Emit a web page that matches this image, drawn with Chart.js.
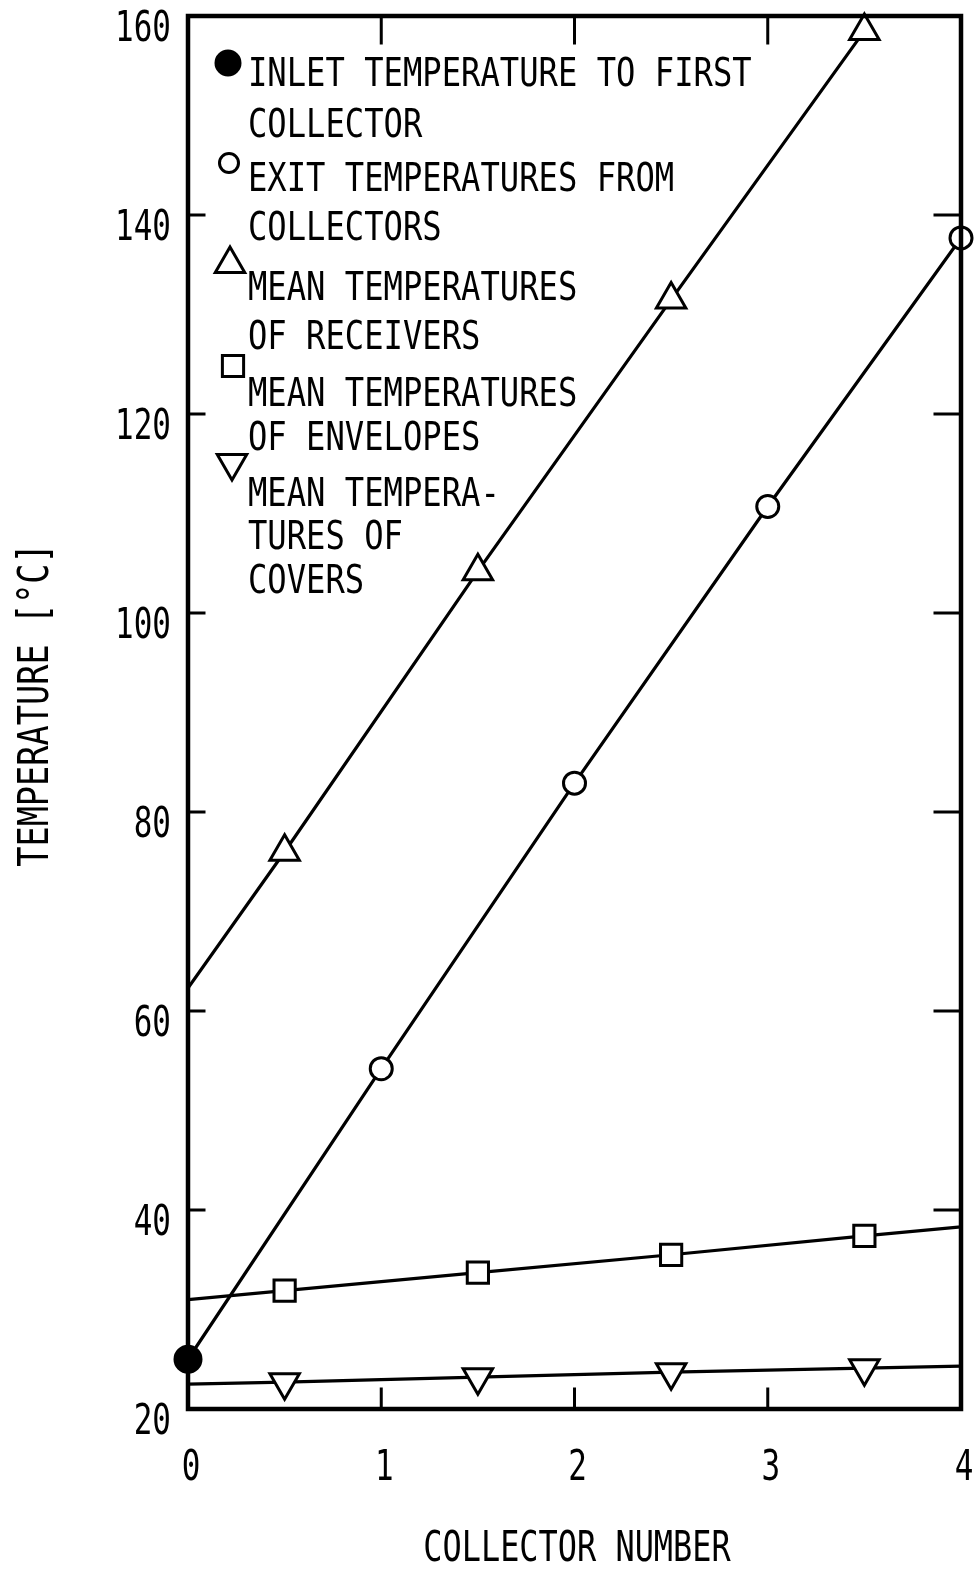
<!DOCTYPE html>
<html>
<head>
<meta charset="utf-8">
<title>Collector temperatures</title>
<script src="https://cdn.jsdelivr.net/npm/chart.js@4.4.1/dist/chart.umd.min.js"></script>
<style>
  html, body { margin: 0; padding: 0; background: #fff; }
  canvas { display: block; }
</style>
</head>
<body>
<canvas id="tempChart" width="974" height="1572"></canvas>
<script>
// collector positions
const collectorNumbers = [1, 2, 3, 4];
const midPositions = [0.5, 1.5, 2.5, 3.5];

// temperatures in degC
const inletTemp = 25;
const exitTemps = [54.2, 82.9, 110.7, 137.7];
const receiverTemps = [76.0, 104.2, 131.5, 158.5];
const envelopeTemps = [31.9, 33.7, 35.5, 37.4];
const coverTemps = [22.7, 23.2, 23.7, 24.1];

// where the drawn lines meet the frame
const receiverLineStart = 62.3;
const envelopeLineEnds = [31.0, 38.3];
const coverLineEnds = [22.5, 24.3];

// axes
const xTicks = [0, 1, 2, 3, 4];
const yTicks = [20, 40, 60, 80, 100, 120, 140, 160];
const xTitle = 'COLLECTOR NUMBER';
const yTitle = 'TEMPERATURE [°C]';

const legendItems = [
  { style: 'circle', filled: true, lines: ['INLET TEMPERATURE TO FIRST', 'COLLECTOR'] },
  { style: 'circle', filled: false, lines: ['EXIT TEMPERATURES FROM', 'COLLECTORS'] },
  { style: 'triangle', filled: false, lines: ['MEAN TEMPERATURES', 'OF RECEIVERS'] },
  { style: 'rect', filled: false, lines: ['MEAN TEMPERATURES', 'OF ENVELOPES'] },
  { style: 'triangle', rotation: 180, filled: false, lines: ['MEAN TEMPERA-', 'TURES OF', 'COVERS'] }
];

const FONT = '"DejaVu Sans Mono", "Liberation Mono", monospace';

function pts(xs, ys) {
  return xs.map((x, i) => ({ x: x, y: ys[i] }));
}

// narrow typewriter-looking text: squeeze the mono font horizontally
function squeezed(ctx, text, x, y, size, sx, align, angle) {
  ctx.save();
  ctx.translate(x, y);
  if (angle) ctx.rotate(angle);
  ctx.scale(sx, 1);
  ctx.font = size + 'px ' + FONT;
  ctx.textAlign = align;
  ctx.textBaseline = 'alphabetic';
  ctx.fillStyle = '#000';
  ctx.fillText(text, 0, 0);
  ctx.restore();
}

const lineStyle = {
  showLine: true,
  borderColor: '#000',
  borderWidth: 3.2,
  pointRadius: 0,
  tension: 0,
  order: 2
};

const markerStyle = {
  showLine: false,
  borderColor: '#000',
  backgroundColor: '#fff',
  pointBorderWidth: 3,
  clip: false,
  order: 1
};

const frame = {
  id: 'frame',
  afterDatasetsDraw(chart) {
    const ctx = chart.ctx;
    const a = chart.chartArea;
    const xs = chart.scales.x;
    const ys = chart.scales.y;

    ctx.save();
    ctx.strokeStyle = '#000';
    ctx.lineCap = 'square';

    // inward tick marks on all four sides
    ctx.lineWidth = 3;
    ctx.beginPath();
    yTicks.slice(1, -1).forEach(v => {
      const py = ys.getPixelForValue(v);
      ctx.moveTo(a.left, py); ctx.lineTo(a.left + 16, py);
      ctx.moveTo(a.right, py); ctx.lineTo(a.right - 26, py);
    });
    xTicks.slice(1, -1).forEach(v => {
      const px = xs.getPixelForValue(v);
      ctx.moveTo(px, a.bottom); ctx.lineTo(px, a.bottom - 20);
      ctx.moveTo(px, a.top); ctx.lineTo(px, a.top + 27);
    });
    ctx.stroke();

    ctx.lineWidth = 4.5;
    ctx.strokeRect(a.left, a.top, a.right - a.left, a.bottom - a.top);
    ctx.restore();

    // tick labels
    yTicks.forEach(v => {
      squeezed(ctx, String(v), 171, ys.getPixelForValue(v) + 25, 43, 0.72, 'right');
    });
    xTicks.forEach(v => {
      squeezed(ctx, String(v), xs.getPixelForValue(v) + 3, 1480, 43, 0.72, 'center');
    });

    // axis titles
    squeezed(ctx, xTitle, 577, 1561, 42, 0.76, 'center');
    squeezed(ctx, yTitle, 48, 705, 42, 0.8, 'center', -Math.PI / 2);

    // legend inside the plot
    const markerY = [63, 163, 264, 366, 463];
    const baselines = [[86, 137], [191, 240], [300, 349], [406, 450], [506, 549, 593]];
    const markerX = [228, 229, 230, 233, 232];
    legendItems.forEach((item, i) => {
      ctx.save();
      ctx.strokeStyle = '#000';
      ctx.lineWidth = 3;
      ctx.fillStyle = item.filled ? '#000' : '#fff';
      const r = item.style === 'circle' ? (item.filled ? 12 : 9.5) : (item.style === 'rect' ? 15 : 17);
      Chart.helpers.drawPoint(ctx, {
        pointStyle: item.style,
        radius: r,
        rotation: item.rotation || 0,
        borderWidth: 3
      }, markerX[i], markerY[i]);
      ctx.restore();
      item.lines.forEach((t, j) => {
        squeezed(ctx, t, 248, baselines[i][j], 39, 0.825, 'left');
      });
    });
  }
};

new Chart(document.getElementById('tempChart').getContext('2d'), {
  type: 'scatter',
  data: {
    datasets: [
      // straight lines through each set of points
      Object.assign({ data: pts([0].concat(collectorNumbers), [inletTemp].concat(exitTemps)) }, lineStyle),
      Object.assign({ data: pts([0].concat(midPositions), [receiverLineStart].concat(receiverTemps)) }, lineStyle),
      Object.assign({ data: pts([0].concat(midPositions, [4]), [envelopeLineEnds[0]].concat(envelopeTemps, [envelopeLineEnds[1]])) }, lineStyle),
      Object.assign({ data: pts([0].concat(midPositions, [4]), [coverLineEnds[0]].concat(coverTemps, [coverLineEnds[1]])) }, lineStyle),

      // markers
      Object.assign({}, markerStyle, {
        label: 'Inlet temperature to first collector',
        data: pts([0], [inletTemp]),
        pointStyle: 'circle', pointRadius: 13, backgroundColor: '#000'
      }),
      Object.assign({}, markerStyle, {
        label: 'Exit temperatures from collectors',
        data: pts(collectorNumbers, exitTemps),
        pointStyle: 'circle', pointRadius: 11
      }),
      Object.assign({}, markerStyle, {
        label: 'Mean temperatures of receivers',
        data: pts(midPositions, receiverTemps),
        pointStyle: 'triangle', pointRadius: 17
      }),
      Object.assign({}, markerStyle, {
        label: 'Mean temperatures of envelopes',
        data: pts(midPositions, envelopeTemps),
        pointStyle: 'rect', pointRadius: 15
      }),
      Object.assign({}, markerStyle, {
        label: 'Mean temperatures of covers',
        data: pts(midPositions, coverTemps),
        pointStyle: 'triangle', pointRotation: 180, pointRadius: 17
      })
    ]
  },
  options: {
    responsive: false,
    animation: false,
    layout: {
      autoPadding: false,
      padding: { left: 188, top: 16, right: 13, bottom: 163 }
    },
    scales: {
      x: { type: 'linear', min: 0, max: 4, display: false },
      y: { type: 'linear', min: 20, max: 160, display: false }
    },
    plugins: {
      legend: { display: false },
      tooltip: { enabled: false }
    }
  },
  plugins: [frame]
});
</script>
</body>
</html>
